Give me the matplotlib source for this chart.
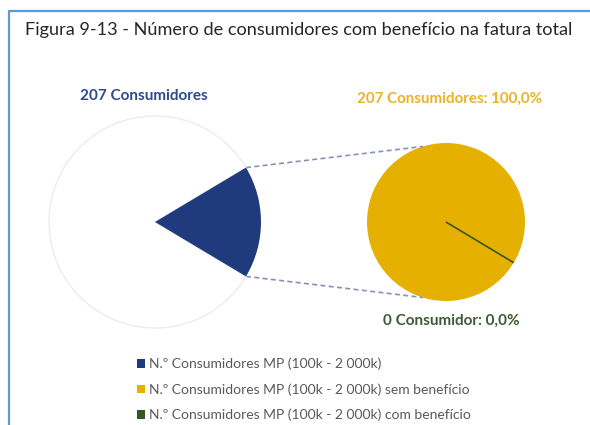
import numpy as np
import matplotlib.pyplot as plt
from matplotlib.patches import Rectangle

plt.rcParams['font.family'] = ['Lato', 'DejaVu Sans']

# data
title = "Figura 9-13 - Número de consumidores com benefício na fatura total"
total_label = "207 Consumidores"
main_values = [207, 1000]          # MP consumers vs. the rest (not shown)
sub_values = [207, 0]              # sem benefício, com benefício
sub_labels = ["207 Consumidores: 100,0%", "0 Consumidor: 0,0%"]
legend_labels = ["N.º Consumidores MP (100k - 2 000k)",
                 "N.º Consumidores MP (100k - 2 000k) sem benefício",
                 "N.º Consumidores MP (100k - 2 000k) com benefício"]

blue = "#1f3b7d"
yellow = "#e6b000"
green = "#375623"

W, H = 590, 425
fig = plt.figure(figsize=(W / 100, H / 100), dpi=100)
ax = fig.add_axes([0, 0, 1, 1])
ax.set_xlim(0, W)
ax.set_ylim(0, H)
ax.set_aspect('equal')
ax.axis('off')

# blue frame (top and left)
ax.plot([9, 9, W + 5], [-5, H - 11, H - 11], color="#5b9bd5", lw=1.6,
        solid_capstyle='butt', clip_on=False)

ax.text(25, H - 30, title, fontsize=13.05, color="#262626", va='center', ha='left')

# left pie
c1, r1 = (155, H - 222), 106
frac = main_values[0] / sum(main_values)
w1, _ = ax.pie(main_values, center=c1, radius=r1, startangle=-frac * 180,
               colors=[blue, "white"], frame=True)
w1[0].set_zorder(3)
w1[1].set_edgecolor("#ececec")
w1[1].set_linewidth(1)
w1[1].set_zorder(2)
ax.text(143.5, H - 96, total_label, fontsize=11, fontweight='bold',
        color="#2e4a8b", ha='center', va='center')

# right pie
c2, r2 = (446, H - 222), 79
w2, _ = ax.pie(sub_values, center=c2, radius=r2, startangle=-31,
               colors=[yellow, green], frame=True)
w2[1].set_edgecolor(green)
w2[1].set_linewidth(1.2)
ax.text(450, H - 99, sub_labels[0], fontsize=10.9, fontweight='bold',
        color="#e8b325", ha='center', va='center')
ax.text(451, H - 321, sub_labels[1], fontsize=11, fontweight='bold',
        color="#3d5a33", ha='center', va='center')

# connecting dashed lines
half = np.deg2rad(frac * 180)
for s in (1, -1):
    p1 = (c1[0] + r1 * np.cos(half), c1[1] + s * r1 * np.sin(half))
    a2 = np.deg2rad(s * 107)
    p2 = (c2[0] + r2 * np.cos(a2), c2[1] + r2 * np.sin(a2))
    ax.plot([p1[0], p2[0]], [p1[1], p2[1]], color="#8592b5", lw=1.2,
            ls=(0, (3, 2)), zorder=1)

ax.set_xlim(0, W)
ax.set_ylim(0, H)
ax.axis('off')

handles = [w1[0], w2[0], w2[1]]
proxies = [Rectangle((0, 0), 1, 1, fc=h.get_facecolor(), ec='none') for h in handles]
fig.legend(proxies, legend_labels, loc='upper left', bbox_to_anchor=(130 / W, 1 - 351 / H),
           frameon=False, fontsize=10, handlelength=0.6, handleheight=0.6,
           handletextpad=0.3, labelspacing=0.93, labelcolor="#595959", borderpad=0)

fig.savefig("out.png", dpi=100)
